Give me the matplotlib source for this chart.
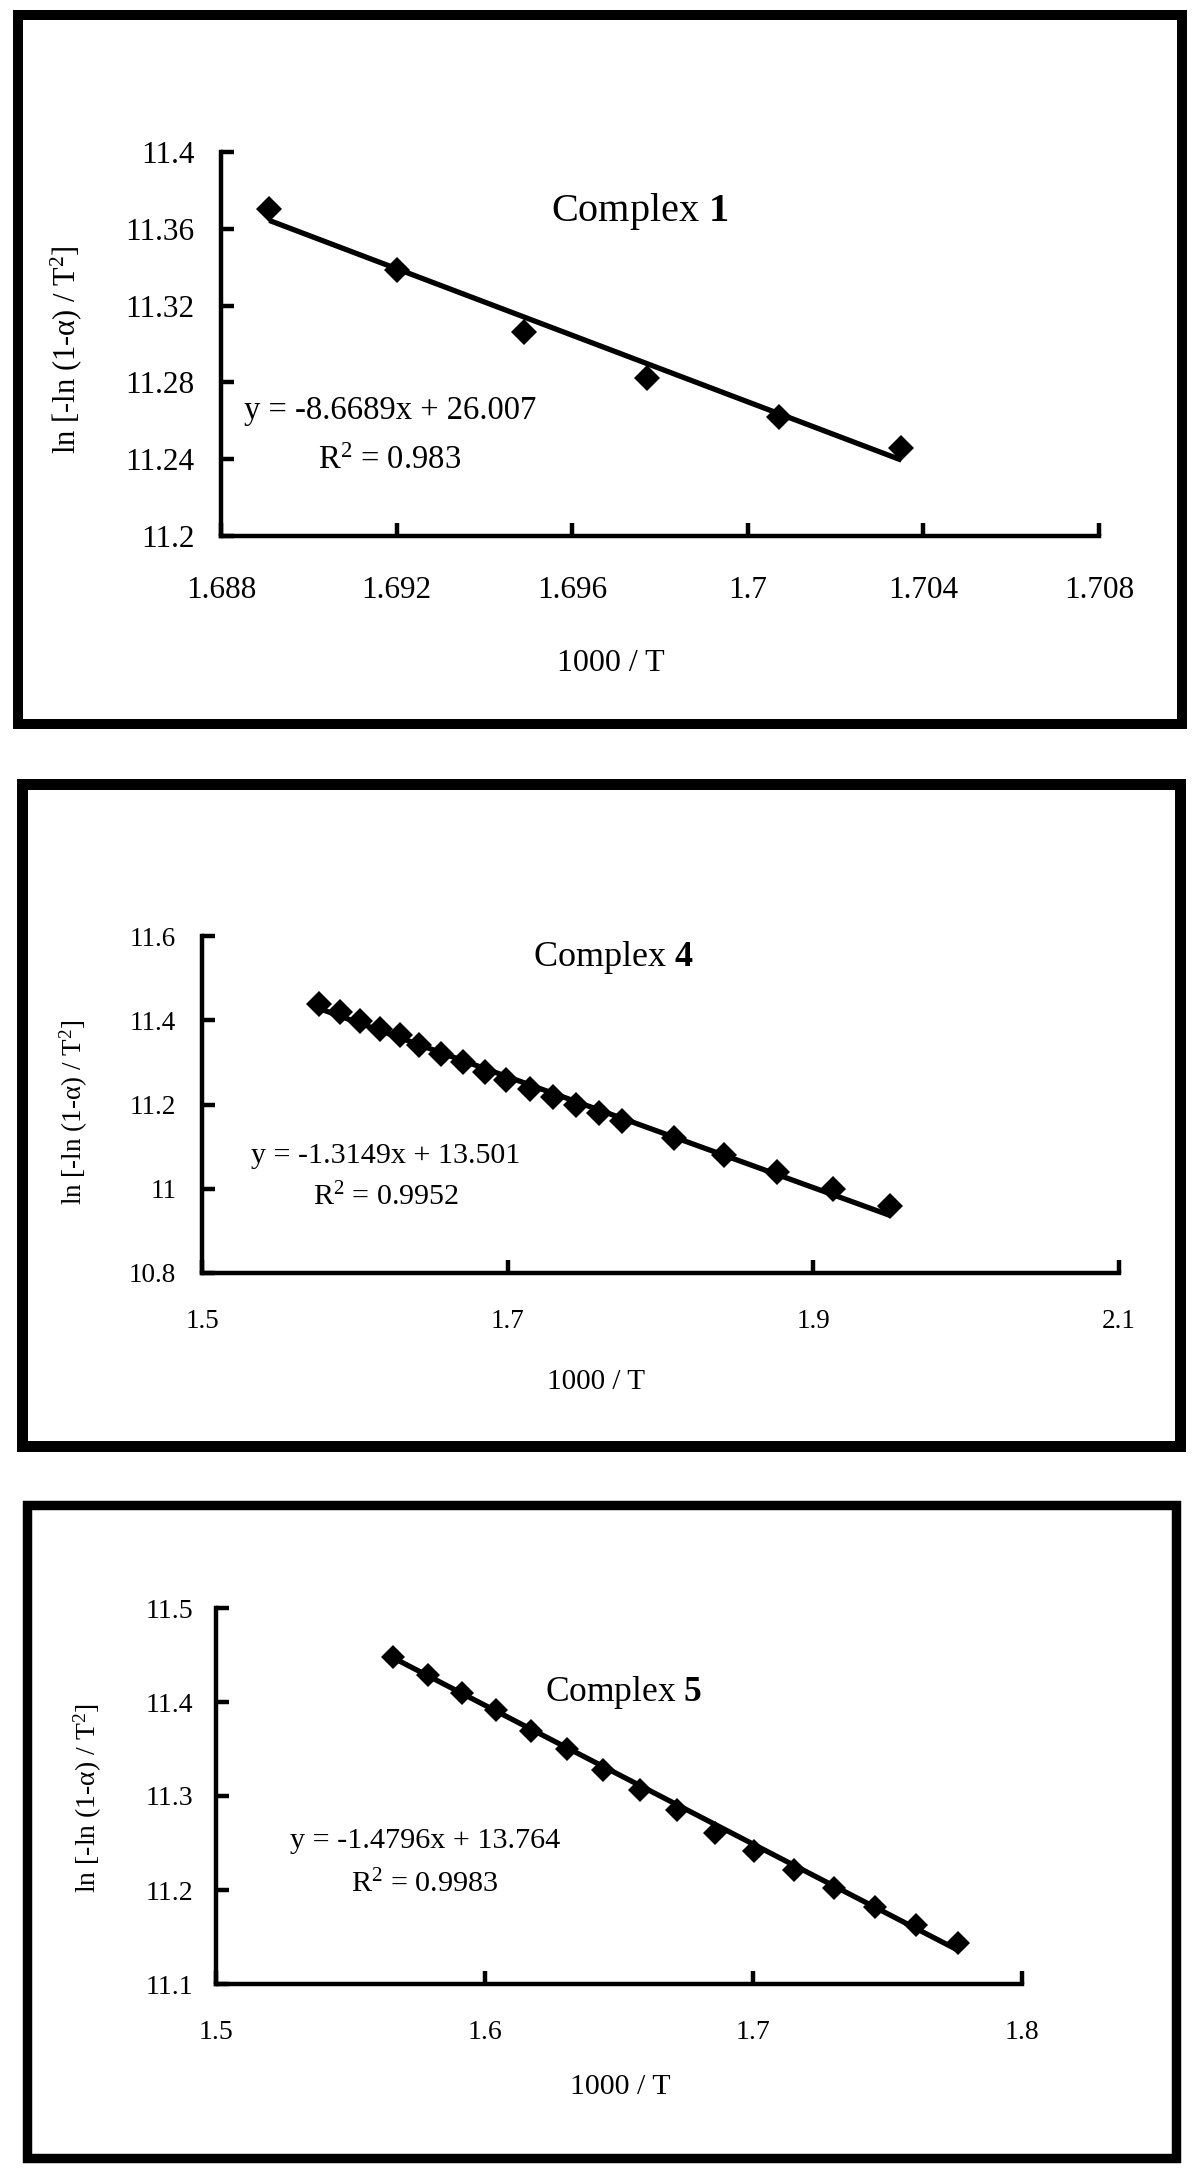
import numpy as np
import matplotlib
matplotlib.use("Agg")
import matplotlib.pyplot as plt
from matplotlib.patches import Rectangle

plt.rcParams['font.family'] = ['Liberation Serif', 'DejaVu Serif']
plt.rcParams['mathtext.fontset'] = 'custom'
plt.rcParams['mathtext.rm'] = 'Liberation Serif'
plt.rcParams['mathtext.it'] = 'Liberation Serif:italic'
plt.rcParams['mathtext.bf'] = 'Liberation Serif:bold'

# ---- data ----
# complex 1
x1 = [1.6891, 1.6920, 1.6949, 1.6977, 1.7007, 1.7035]
y1 = [11.3702, 11.3388, 11.3064, 11.2822, 11.2621, 11.2457]
slope1, icpt1, r2_1 = -8.6689, 26.007, "0.983"
xt1 = [1.688, 1.692, 1.696, 1.700, 1.704, 1.708]
xtl1 = ["1.688", "1.692", "1.696", "1.7", "1.704", "1.708"]
yt1 = [11.2, 11.24, 11.28, 11.32, 11.36, 11.4]
ytl1 = ["11.2", "11.24", "11.28", "11.32", "11.36", "11.4"]

# complex 4
x4 = [1.5766, 1.5905, 1.6036, 1.6163, 1.6294, 1.6421, 1.6567, 1.6706, 1.6849, 1.6988,
      1.7143, 1.7294, 1.7444, 1.7595, 1.7750, 1.8087, 1.8417, 1.8762, 1.9127, 1.9504]
y4 = [11.4386, 11.4189, 11.3992, 11.3795, 11.3638, 11.3402, 11.3205, 11.3008, 11.2772, 11.2575,
      11.2378, 11.2181, 11.1984, 11.1787, 11.1606, 11.1197, 11.0803, 11.0386, 10.9992, 10.9598]
slope4, icpt4, r2_4 = -1.3149, 13.501, "0.9952"
xt4 = [1.5, 1.7, 1.9, 2.1]
xtl4 = ["1.5", "1.7", "1.9", "2.1"]
yt4 = [10.8, 11.0, 11.2, 11.4, 11.6]
ytl4 = ["10.8", "11", "11.2", "11.4", "11.6"]

# complex 5
x5 = [1.5658, 1.5790, 1.5915, 1.6043, 1.6174, 1.6306, 1.6441, 1.6579, 1.6715, 1.6856,
      1.7004, 1.7150, 1.7302, 1.7453, 1.7607, 1.7763]
y5 = [11.4484, 11.4288, 11.4100, 11.3911, 11.3694, 11.3495, 11.3281, 11.3068, 11.2854, 11.2609,
      11.2413, 11.2214, 11.2018, 11.1815, 11.1626, 11.1441]
slope5, icpt5, r2_5 = -1.4796, 13.764, "0.9983"
xt5 = [1.5, 1.6, 1.7, 1.8]
xtl5 = ["1.5", "1.6", "1.7", "1.8"]
yt5 = [11.1, 11.2, 11.3, 11.4, 11.5]
ytl5 = ["11.1", "11.2", "11.3", "11.4", "11.5"]

ylab = r"ln [-ln (1-α) / T$^2$]"
xlab = "1000 / T"

W, H = 1200, 2176
fig = plt.figure(figsize=(W / 100, H / 100), dpi=100)


def fx(px):
    return px / W


def fy(py):
    return 1 - py / H


def panel(x, y, slope, icpt, r2, num, xt, xtl, yt, ytl, box, ax_px, fs, pos):
    # outer frame
    bx0, by0, bx1, by1, blw = box
    fig.add_artist(Rectangle((fx(bx0), fy(by1)), fx(bx1) - fx(bx0), fy(by0) - fy(by1),
                             transform=fig.transFigure, fill=False, edgecolor='black',
                             linewidth=blw, joinstyle='miter'))
    l, t, r, b = ax_px
    ax = fig.add_axes([fx(l), fy(b), fx(r) - fx(l), fy(t) - fy(b)])
    # linear trendline from the printed equation
    xa = np.array([x[0], x[-1]])
    ax.plot(xa, slope * xa + icpt, color='black', lw=3.8, solid_capstyle='butt', zorder=2)
    ax.plot(x, y, 'D', color='black', ms=fs['ms'], mew=0, zorder=3, clip_on=False)
    ax.set_xlim(xt[0], xt[-1])
    ax.set_ylim(yt[0], yt[-1])
    ax.set_xticks(xt)
    ax.set_xticklabels(xtl)
    ax.set_yticks(yt)
    ax.set_yticklabels(ytl)
    for s in ['top', 'right']:
        ax.spines[s].set_visible(False)
    for s in ['left', 'bottom']:
        ax.spines[s].set_linewidth(3.2)
    ax.tick_params(direction='in', length=9.5, width=3.2, labelsize=fs['tick'])
    ax.tick_params(axis='x', pad=fs['xpad'])
    ax.tick_params(axis='y', pad=fs['ypad'])
    ax.set_facecolor('none')

    # axis titles
    ax.set_xlabel(xlab, fontsize=fs['xlab'], va='baseline')
    ax.xaxis.set_label_coords((pos['xlab'][0] - l) / (r - l), (b - pos['xlab'][1]) / (b - t))
    ax.set_ylabel(ylab, fontsize=fs['ylab'], va='center')
    ax.yaxis.set_label_coords((pos['ylab'][0] - l) / (r - l), (b - pos['ylab'][1]) / (b - t))

    # chart title and trendline equation
    fig.text(fx(pos['title'][0]), fy(pos['title'][1]), r"Complex $\mathbf{%d}$" % num,
             fontsize=fs['title'], ha='center', va='baseline')
    fig.text(fx(pos['eq'][0]), fy(pos['eq'][1]), "y = %gx + %g" % (slope, icpt),
             fontsize=fs['eq'], ha='center', va='baseline')
    fig.text(fx(pos['eq'][0]), fy(pos['eq'][2]), r"R$^2$ = " + r2,
             fontsize=fs['eq'], ha='center', va='baseline')
    return ax


panel(x1, y1, slope1, icpt1, r2_1, 1, xt1, xtl1, yt1, ytl1,
      (18, 15, 1182, 724, 7.2), (221, 152, 1099, 536),
      dict(ms=13, tick=22.5, xpad=29, ypad=19, xlab=23, ylab=22, title=29, eq=23.5),
      dict(xlab=(611, 671), ylab=(66, 350), title=(640, 221), eq=(390, 419, 469)))

panel(x4, y4, slope4, icpt4, r2_4, 4, xt4, xtl4, yt4, ytl4,
      (22, 784, 1180, 1446, 7.9), (202, 936, 1119, 1273),
      dict(ms=13, tick=19.5, xpad=26, ypad=18.5, xlab=21, ylab=19.5, title=26, eq=21.6),
      dict(xlab=(596, 1389), ylab=(74, 1112), title=(613, 966), eq=(386, 1163, 1205)))

panel(x5, y5, slope5, icpt5, r2_5, 5, xt5, xtl5, yt5, ytl5,
      (27, 1505, 1176, 2158, 6.8), (216, 1608, 1022, 1984),
      dict(ms=12, tick=20, xpad=26, ypad=16.5, xlab=21.5, ylab=20, title=25.5, eq=21.7),
      dict(xlab=(620, 2094), ylab=(88, 1798), title=(623, 1701), eq=(425, 1848, 1892)))

fig.savefig('out.png', dpi=100)
